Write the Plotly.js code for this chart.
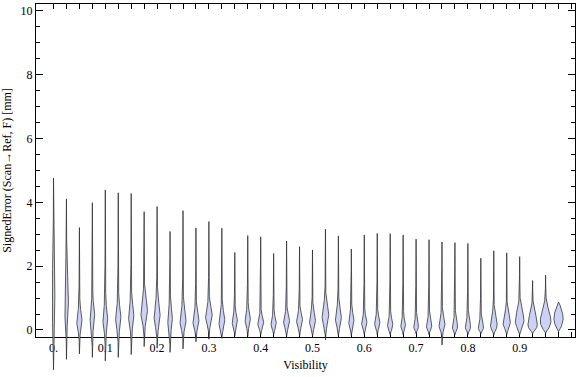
<!DOCTYPE html>
<html>
<head>
<meta charset="utf-8">
<script src="https://cdn.plot.ly/plotly-3.0.1.min.js"></script>
<style>html,body{margin:0;padding:0;background:#fff;}#chart{width:576px;height:377px;}</style>
</head>
<body>
<div id="chart"></div>
<script>
// Visibility bins (violin positions)
const visibility = [0, 0.025, 0.05, 0.075, 0.1, 0.125, 0.15, 0.175, 0.2, 0.225,
  0.25, 0.275, 0.3, 0.325, 0.35, 0.375, 0.4, 0.425, 0.45, 0.475,
  0.5, 0.525, 0.55, 0.575, 0.6, 0.625, 0.65, 0.675, 0.7, 0.725,
  0.75, 0.775, 0.8, 0.825, 0.85, 0.875, 0.9, 0.925, 0.95, 0.975];
// Max / min signed error per bin [mm]
const errMax = [4.76, 4.11, 3.21, 3.99, 4.39, 4.30, 4.28, 3.71, 3.87, 3.09,
  3.74, 3.20, 3.40, 3.19, 2.43, 2.96, 2.92, 2.40, 2.79, 2.61,
  2.51, 3.16, 2.95, 2.54, 2.98, 3.03, 3.02, 2.98, 2.85, 2.83,
  2.76, 2.74, 2.71, 2.25, 2.48, 2.42, 2.30, 1.55, 1.72, 0.88];
const errMin = [-1.25, -0.92, -0.75, -0.86, -0.97, -0.86, -0.77, -0.52, -0.57, -0.70,
  -0.59, -0.37, -0.29, -0.26, -0.18, -0.20, -0.15, -0.15, -0.20, -0.20,
  -0.20, -0.31, -0.18, -0.18, -0.15, -0.15, -0.15, -0.15, -0.12, -0.15,
  -0.47, -0.15, -0.15, -0.12, -0.15, -0.15, -0.15, -0.12, -0.10, -0.05];
// Location of the density peak per bin [mm]
const modeErr = [0.80, 0.70, 0.26, 0.42, 0.31, 0.36, 0.42, 0.57, 0.42, 0.31,
  0.26, 0.26, 0.42, 0.26, 0.26, 0.31, 0.21, 0.19, 0.26, 0.29,
  0.26, 0.42, 0.36, 0.26, 0.21, 0.21, 0.15, 0.14, 0.11, 0.13,
  0.15, 0.10, 0.10, 0.08, 0.15, 0.21, 0.26, 0.15, 0.26, 0.36];
// Relative peak density per bin
const peakDensity = [2.7, 4.0, 5.3, 4.7, 4.7, 5.3, 5.3, 6.7, 6.0, 4.7,
  6.0, 6.0, 6.7, 6.0, 5.3, 5.3, 6.0, 5.3, 6.0, 6.0,
  6.0, 6.7, 6.0, 5.3, 5.3, 5.3, 5.3, 4.7, 4.7, 5.3,
  6.0, 5.3, 5.3, 5.3, 6.7, 7.3, 8.7, 9.3, 10.7, 9.3];
// Spread of the main density lobe below / above the peak [mm]
const spreadBelow = [0.70, 0.40, 0.25, 0.30, 0.30, 0.30, 0.30, 0.30, 0.30, 0.25,
  0.22, 0.20, 0.22, 0.20, 0.18, 0.18, 0.15, 0.15, 0.18, 0.18,
  0.18, 0.25, 0.22, 0.18, 0.15, 0.15, 0.14, 0.13, 0.12, 0.13,
  0.15, 0.12, 0.12, 0.12, 0.15, 0.15, 0.18, 0.15, 0.20, 0.25];
const spreadAbove = [1.30, 1.00, 0.30, 0.35, 0.35, 0.35, 0.35, 0.40, 0.40, 0.35,
  0.35, 0.30, 0.30, 0.30, 0.22, 0.25, 0.20, 0.20, 0.22, 0.22,
  0.28, 0.35, 0.30, 0.25, 0.20, 0.20, 0.20, 0.18, 0.18, 0.20,
  0.25, 0.20, 0.20, 0.18, 0.30, 0.30, 0.35, 0.35, 0.35, 0.30];

const xTickVals = [0, 0.1, 0.2, 0.3, 0.4, 0.5, 0.6, 0.7, 0.8, 0.9];
const xTickText = ['0.', '0.1', '0.2', '0.3', '0.4', '0.5', '0.6', '0.7', '0.8', '0.9'];
const yTickVals = [0, 2, 4, 6, 8, 10];
const yTickText = ['0', '2', '4', '6', '8', '10'];

// ---- styling / geometry ----
const widthScale = 0.5 / 518;   // x-units per density unit (half width)
const tailW = 0.55 / 518;
const fillCol = 'rgb(203,210,245)';
const lineCol = 'rgba(45,45,45,0.85)';
const font = 'Liberation Serif, Times New Roman, serif';

function halfWidth(i, y) {
  const m = modeErr[i], lo = errMin[i], hi = errMax[i];
  const s = y < m ? spreadBelow[i] : spreadAbove[i];
  let bulb = peakDensity[i] * widthScale * Math.exp(-0.5 * Math.pow((y - m) / s, 2));
  const tail = tailW * (y < m ? (y - lo) / (m - lo) : (hi - y) / (hi - m));
  const taper = Math.min(1, (y - lo) / 0.12, (hi - y) / 0.12);
  bulb *= Math.max(0, taper);
  return Math.max(bulb, tail, 0);
}

const traces = [];
traces.push({x: [null], y: [null], xaxis: 'x', yaxis: 'y', type: 'scatter', mode: 'markers',
  showlegend: false, hoverinfo: 'skip'});
for (let i = 0; i < visibility.length; i++) {
  const n = 260, lo = errMin[i], hi = errMax[i];
  const ys = [];
  for (let k = 0; k <= n; k++) ys.push(lo + (hi - lo) * k / n);
  const xs = [], yy = [];
  ys.forEach(y => { xs.push(visibility[i] + halfWidth(i, y)); yy.push(y); });
  for (let k = ys.length - 1; k >= 0; k--) { xs.push(visibility[i] - halfWidth(i, ys[k])); yy.push(ys[k]); }
  traces.push({x: xs, y: yy, xaxis: 'x2', yaxis: 'y2', type: 'scatter', mode: 'lines',
    fill: 'toself', fillcolor: fillCol, line: {color: lineCol, width: 0.9},
    showlegend: false, hoverinfo: 'skip'});
}

const xr = [-0.0338, 1.0068];
const pxPerY = 31.9;
const yTop = 10.219;
const frameBottom = 337, plotTop = 4, plotBottom = 375;
const plotH = plotBottom - plotTop;
const mainDomLo = (plotBottom - frameBottom) / plotH;

const minorX = [];
for (let i = 0; i <= 40; i++) minorX.push(+(i * 0.025).toFixed(3));

const layout = {
  width: 576, height: 377,
  margin: {l: 36, r: 1, t: plotTop, b: 377 - plotBottom},
  paper_bgcolor: '#fff', plot_bgcolor: 'rgba(0,0,0,0)',
  showlegend: false,
  font: {family: font, size: 12, color: '#000'},
  xaxis: {domain: [0, 1], range: xr, anchor: 'y', showgrid: false, zeroline: false,
    showline: true, linecolor: '#000', linewidth: 1, mirror: 'ticks',
    tickmode: 'array', tickvals: xTickVals, ticktext: xTickText,
    ticks: 'inside', ticklen: 5, tickcolor: '#000', tickwidth: 1,
    minor: {tickmode: 'array', tickvals: minorX, ticks: 'inside', ticklen: 5, tickcolor: '#000', tickwidth: 1, showgrid: false},
    tickfont: {family: font, size: 12, color: '#000'},
    title: {text: 'Visibility', font: {family: font, size: 12, color: '#000'}, standoff: 6}},
  yaxis: {domain: [mainDomLo, 1], range: [-(frameBottom - (plotTop + (yTop) * pxPerY)) / pxPerY * -1, yTop], anchor: 'x',
    showgrid: false, zeroline: false,
    showline: true, linecolor: '#000', linewidth: 1, mirror: 'ticks',
    tickmode: 'array', tickvals: yTickVals, ticktext: yTickText,
    ticks: 'inside', ticklen: 7, tickcolor: '#000', tickwidth: 1,
    minor: {dtick: 0.5, tick0: 0, ticks: 'inside', ticklen: 4, tickcolor: '#000', tickwidth: 1, showgrid: false},
    tickfont: {family: font, size: 12, color: '#000'},
    title: {text: 'SignedError (Scan\u2192Ref, F) [mm]', font: {family: font, size: 12, color: '#000'}, standoff: 6}},
  xaxis2: {domain: [0, 1], range: xr, anchor: 'y2', visible: false, fixedrange: true},
  yaxis2: {domain: [0, 1], range: [yTop - plotH / pxPerY, yTop], anchor: 'x2', visible: false, fixedrange: true}
};
layout.yaxis.range = [yTop - (frameBottom - plotTop) / pxPerY, yTop];

Plotly.newPlot('chart', traces, layout, {staticPlot: true, displayModeBar: false});
</script>
</body>
</html>
